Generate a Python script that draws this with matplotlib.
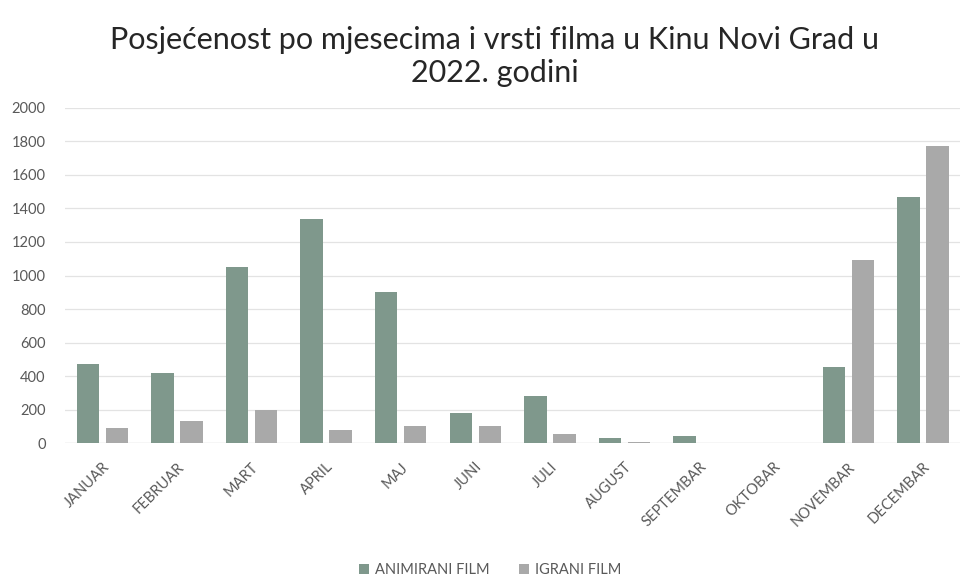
import numpy as np
import matplotlib
matplotlib.use("Agg")
import matplotlib.pyplot as plt

plt.rcParams["font.family"] = ["Lato", "DejaVu Sans"]

months = ["JANUAR", "FEBRUAR", "MART", "APRIL", "MAJ", "JUNI", "JULI",
          "AUGUST", "SEPTEMBAR", "OKTOBAR", "NOVEMBAR", "DECEMBAR"]
animirani = [475, 420, 1050, 1335, 900, 180, 280, 30, 40, 0, 455, 1470]
igrani = [90, 130, 200, 80, 105, 100, 55, 8, 0, 0, 1090, 1770]
y_ticks = [0, 200, 400, 600, 800, 1000, 1200, 1400, 1600, 1800, 2000]

fig = plt.figure(figsize=(9.7, 5.8), dpi=100)
ax = fig.add_axes([0.067, 0.236, 0.923, 0.578])

x = np.arange(len(months))
w = 0.3
off = 0.195
ax.bar(x - off, animirani, width=w, color="#7f988c", label="ANIMIRANI FILM", zorder=3)
ax.bar(x + off, igrani, width=w, color="#a9a9a9", label="IGRANI FILM", zorder=3)

ax.set_xlim(-0.5, len(months) - 0.5)
ax.set_ylim(0, 2000)
ax.set_yticks(y_ticks)
ax.yaxis.grid(True, color="#e3e3e3", linewidth=0.9, zorder=0)
for s in ax.spines.values():
    s.set_visible(False)
ax.tick_params(axis="both", length=0, colors="#595959", labelsize=10.5)
ax.tick_params(axis="y", pad=14)
ax.tick_params(axis="x", pad=12)
ax.set_xticks(x)
ax.set_xticklabels(months, rotation=45, ha="right", rotation_mode="anchor",
                   fontsize=10.5, color="#595959")
ax.axhline(0, color="#d9d9d9", linewidth=0.9, zorder=2)

fig.text(0.51, 0.903, "Posjećenost po mjesecima i vrsti filma u Kinu Novi Grad u\n2022. godini",
         ha="center", va="center", fontsize=22, color="#262626", linespacing=1.2)

fig.legend(loc="center", bbox_to_anchor=(0.505, 0.017), ncol=2, frameon=False,
           fontsize=10.5, labelcolor="#595959", handlelength=0.7, handleheight=0.7,
           handletextpad=0.4, columnspacing=2.0)

fig.savefig("out.png", dpi=100)
